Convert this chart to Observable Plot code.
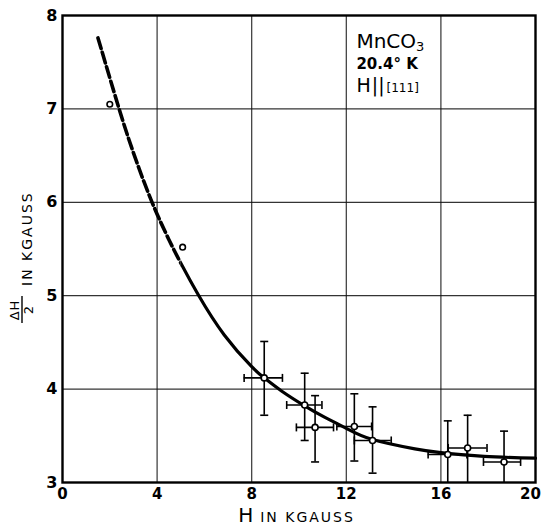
<!DOCTYPE html>
<html><head><meta charset="utf-8">
<script src="https://cdn.jsdelivr.net/npm/d3@7"></script>
<script src="https://cdn.jsdelivr.net/npm/@observablehq/plot@0.6"></script>
<style>body{margin:0;background:#fff} #chart{width:543px;height:526px}</style>
</head><body><div id="chart"></div>
<script>
// ---- data ----
const fieldH    = [2.0, 5.08, 8.53, 10.24, 10.68, 12.34, 13.11, 16.29, 17.13, 18.67];
const halfWidth = [7.05, 5.52, 4.12, 3.83, 3.59, 3.60, 3.45, 3.30, 3.37, 3.22];
const yLow  = [null, null, 3.72, 3.45, 3.22, 3.23, 3.10, 2.90, 2.90, 2.90];
const yHigh = [null, null, 4.51, 4.17, 3.93, 3.95, 3.81, 3.66, 3.72, 3.55];
const xLow  = [null, null, 7.68, 9.48, 9.89, 11.60, 12.34, 15.46, 16.31, 17.80];
const xHigh = [null, null, 9.30, 10.97, 11.46, 13.07, 13.90, 17.10, 17.95, 19.37];
const hasErrors = [false, false, true, true, true, true, true, true, true, true];

// fitted curve as drawn (dashed up to dashEndH, solid afterwards)
const curveH = [1.5, 2.37, 3.0, 3.77, 4.5, 5.0, 5.74, 6.84, 8.0, 8.53, 9.26, 10.24, 11.0, 12.0, 13.11, 14.9, 16.0, 17.83, 20];
const curveW = [7.76, 7.02, 6.53, 6.01, 5.60, 5.35, 5.01, 4.58, 4.24, 4.12, 3.98, 3.82, 3.71, 3.58, 3.46, 3.36, 3.32, 3.28, 3.26];
const dashEndH = 5.0;

const xTicks = [0, 4, 8, 12, 16];
const xTickLast = [20];
const yTicks = [3, 4, 5, 6, 7, 8];
const xGrid = [4, 8, 12, 16];
const yGrid = [4, 5, 6, 7];

const compound = "MnCO", compoundSub = "3";
const temperature = "20.4° K";
const orientH = "H", orientPar = "||", orientDir = "[111]";
const xLabelMain = "H", xLabelRest = "IN KGAUSS";
const yLabelNum = "ΔH", yLabelDen = "2", yLabelRest = "IN KGAUSS";

// ---- build tables ----
const points = fieldH.map((x, i) => ({x, y: halfWidth[i], err: hasErrors[i], yl: yLow[i], yh: yHigh[i], xl: xLow[i], xh: xHigh[i]}));
const errPts = points.filter(d => d.err);
const curve = curveH.map((x, i) => ({x, y: curveW[i]}));

const FONT = "'DejaVu Sans', sans-serif";
const hCap = {draw(ctx, size) { const r = Math.sqrt(size / Math.PI); ctx.moveTo(-r, 0); ctx.lineTo(r, 0); }};
const vCap = {draw(ctx, size) { const r = Math.sqrt(size / Math.PI); ctx.moveTo(0, -r); ctx.lineTo(0, r); }};

const svg = Plot.plot({
  width: 543, height: 526,
  marginLeft: 62, marginRight: 8, marginTop: 15, marginBottom: 44,
  style: {fontFamily: FONT, background: "white", color: "black"},
  x: {domain: [0, 20]},
  y: {domain: [3, 8]},
  marks: [
    Plot.gridX(xGrid, {stroke: "#111", strokeOpacity: 0.85, strokeWidth: 1.2}),
    Plot.gridY(yGrid, {stroke: "#111", strokeOpacity: 0.85, strokeWidth: 1.2}),
    Plot.axisX(xTicks, {tickSize: 0, tickPadding: 6, fontSize: 15, fontWeight: "bold", label: null, tickFormat: "d"}),
    Plot.axisX(xTickLast, {tickSize: 0, tickPadding: 6, fontSize: 15, fontWeight: "bold", label: null, tickFormat: "d", dx: -5}),
    Plot.axisY(yTicks, {tickSize: 0, tickPadding: 5, fontSize: 16, fontWeight: "bold", label: null, tickFormat: "d"}),
    Plot.line(curve, {x: "x", y: "y", curve: "natural", stroke: "black", strokeWidth: 3.6, strokeDasharray: "11,4"}),
    Plot.line(curve, {x: "x", y: "y", curve: "natural", stroke: "black", strokeWidth: 3.2}),
    Plot.ruleX(errPts, {x: "x", y1: "yl", y2: "yh", stroke: "black", strokeWidth: 1.6, clip: true}),
    Plot.ruleY(errPts, {y: "y", x1: "xl", x2: "xh", stroke: "black", strokeWidth: 1.6, clip: true}),
    Plot.dot(errPts, {x: "x", y: "yl", symbol: hCap, r: 4, fill: "none", stroke: "black", strokeWidth: 1.6, clip: true}),
    Plot.dot(errPts, {x: "x", y: "yh", symbol: hCap, r: 4, fill: "none", stroke: "black", strokeWidth: 1.6, clip: true}),
    Plot.dot(errPts, {x: "xl", y: "y", symbol: vCap, r: 4, fill: "none", stroke: "black", strokeWidth: 1.6, clip: true}),
    Plot.dot(errPts, {x: "xh", y: "y", symbol: vCap, r: 4, fill: "none", stroke: "black", strokeWidth: 1.6, clip: true}),
    Plot.dot(points, {x: "x", y: "y", r: d => d.err ? 4.6 : 4, fill: "white", stroke: "black", strokeWidth: 1.6}),
    Plot.frame({stroke: "black", strokeWidth: 2.4})
  ]
});

const sx = svg.scale("x"), sy = svg.scale("y");
const g = d3.select(svg);

// split the single smooth curve into a dashed part and a solid part
const xSplit = sx.apply(dashEndH);
const defs = g.insert("defs", ":first-child");
defs.append("clipPath").attr("id", "clip-dash").append("rect")
  .attr("x", 0).attr("y", 0).attr("width", xSplit).attr("height", 526);
defs.append("clipPath").attr("id", "clip-solid").append("rect")
  .attr("x", xSplit).attr("y", 0).attr("width", 543 - xSplit).attr("height", 526);
const lineGroups = g.selectAll('g[aria-label="line"]').nodes();
lineGroups[0].setAttribute("clip-path", "url(#clip-dash)");
lineGroups[1].setAttribute("clip-path", "url(#clip-solid)");

// annotation block (left-aligned)
const ann = g.append("g").attr("font-family", FONT).attr("fill", "black").attr("text-anchor", "start");
const ax = sx.apply(12.45);
const t1 = ann.append("text").attr("x", ax).attr("y", sy.apply(7.65)).attr("font-size", 20);
t1.append("tspan").text(compound);
t1.append("tspan").attr("font-size", 13).attr("dy", 3).text(compoundSub);
ann.append("text").attr("x", ax).attr("y", sy.apply(7.42)).attr("font-size", 15).attr("font-weight", "bold").text(temperature);
const t3 = ann.append("text").attr("x", ax).attr("y", sy.apply(7.18)).attr("font-size", 19);
t3.append("tspan").text(orientH);
t3.append("tspan").attr("dx", 1).text(orientPar);
t3.append("tspan").attr("dx", 2).attr("font-size", 12).text(orientDir);

// x-axis label
const xl = g.append("text").attr("font-family", FONT).attr("text-anchor", "middle")
  .attr("x", (sx.range[0] + sx.range[1]) / 2 - 2).attr("y", 522);
xl.append("tspan").attr("font-size", 20).text(xLabelMain);
xl.append("tspan").attr("font-size", 14).attr("dx", 7).attr("letter-spacing", 2).text(xLabelRest);

// y-axis label (rotated, with fraction)
const yg = g.append("g").attr("font-family", FONT)
  .attr("transform", `translate(0, 326) rotate(-90)`);
yg.append("text").attr("x", 16).attr("y", 19).attr("font-size", 13).attr("text-anchor", "middle").attr("letter-spacing", 1).text(yLabelNum);
yg.append("line").attr("x1", 3).attr("x2", 30).attr("y1", 22).attr("y2", 22).attr("stroke", "black").attr("stroke-width", 1.4);
yg.append("text").attr("x", 16).attr("y", 33).attr("font-size", 13).attr("text-anchor", "middle").text(yLabelDen);
yg.append("text").attr("x", 40).attr("y", 32).attr("font-size", 14).attr("text-anchor", "start").attr("letter-spacing", 2).text(yLabelRest);

document.getElementById("chart").appendChild(svg);
</script>
</body></html>
